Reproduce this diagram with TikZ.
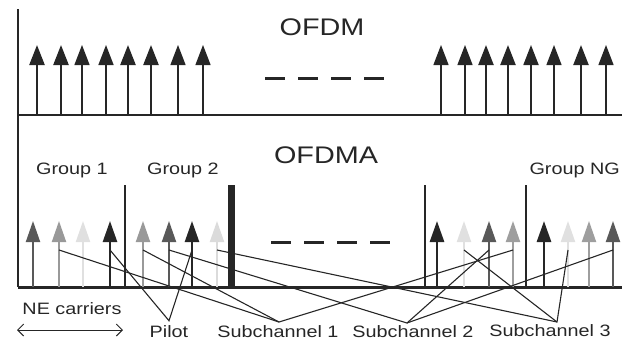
\documentclass[tikz,border=0pt]{standalone}
\usepackage{fontspec}
\setmainfont{Liberation Sans}
\newfontfamily\labelfont[FakeStretch=1.2]{Liberation Sans}
\usetikzlibrary{arrows.meta, positioning}
\definecolor{ink}{RGB}{38,38,38}
\newcommand\ofdmtone[2]{\draw[-{Triangle[width=15pt,length=20pt]}, draw=ink, line width=#2] (#1,115) -- (#1,45);}
\newcommand\subtone[3]{\draw[-{Triangle[width=14pt,length=21pt]}, draw=#2, line width=#3] (#1,287) -- (#1,221);\coordinate (t#1) at (#1,250);}
\newcommand\groupwall[2]{\draw[ink, line width=#2] (#1,185) -- (#1,287);}
\tikzset{
  grouplbl/.style={font=\labelfont\fontsize{16.5}{18}\selectfont, text=ink, inner sep=0pt},
  titlelbl/.style={font=\labelfont\fontsize{24}{26}\selectfont, text=ink, inner sep=0pt},
  mapline/.style={draw=ink, line width=1.1pt},
}

\begin{document}
\begin{tikzpicture}[x=1pt, y=-1pt]
\useasboundingbox (0,0) rectangle (622,341);
\clip (0,0) rectangle (622,341);

\draw[ink, line width=2.5pt] (18,9) -- (18,287);
\draw[ink, line width=2.5pt] (18,115) -- (622,115);
\draw[ink, line width=3pt] (18,287) -- (622,287);

\node[titlelbl] (ofdm) at (322,27) {OFDM};
\node[titlelbl] (ofdma) at (326,155) {OFDMA};

\ofdmtone{37}{2.4pt}
\ofdmtone{61}{2.4pt}
\ofdmtone{82}{1.3pt}
\ofdmtone{106}{1.5pt}
\ofdmtone{128}{2.4pt}
\ofdmtone{151}{2.4pt}
\ofdmtone{178}{1.3pt}
\ofdmtone{203}{1.3pt}
\draw[ink, line width=3pt, dash pattern=on 20pt off 13pt] (265,78) -- (386,78);
\ofdmtone{441}{1.3pt}
\ofdmtone{465}{1.3pt}
\ofdmtone{486}{2.2pt}
\ofdmtone{508}{2.2pt}
\ofdmtone{531}{1.8pt}
\ofdmtone{554}{1.3pt}
\ofdmtone{581}{2.2pt}
\ofdmtone{606}{1.3pt}

\node[grouplbl] (group1) at (72,170) {Group 1};
\node[grouplbl] (group2) at (183,170) {Group 2};
\node[grouplbl, anchor=east] (groupng) at (620,170) {Group NG};

\groupwall{125}{2.5pt}
\groupwall{231}{7pt}
\groupwall{425}{2.5pt}
\groupwall{526}{2.5pt}

\subtone{33}{black!65}{2pt}
\subtone{59}{black!40}{2pt}
\subtone{83}{black!12}{2pt}
\subtone{110}{ink}{2.5pt}
\subtone{143}{black!40}{2pt}
\subtone{169}{black!65}{2pt}
\subtone{192}{ink}{2.5pt}
\subtone{217}{black!14}{2pt}
\draw[ink, line width=3pt, dash pattern=on 20pt off 13pt] (271,242) -- (391,242);
\subtone{437}{ink}{2.8pt}
\subtone{464}{black!12}{2pt}
\subtone{489}{black!65}{2pt}
\subtone{513}{black!38}{2pt}
\subtone{544}{ink}{2.8pt}
\subtone{568}{black!12}{2pt}
\subtone{589}{black!38}{2pt}
\subtone{613}{black!65}{2pt}

\node[grouplbl] (carriers) at (72,309) {NE carriers};
\node[grouplbl] (pilotlbl) at (169,332) {Pilot};
\node[grouplbl] (sub1lbl) at (278,332) {Subchannel 1};
\node[grouplbl] (sub2lbl) at (413,332) {Subchannel 2};
\node[grouplbl] (sub3lbl) at (550,331) {Subchannel 3};

\coordinate[above=5pt of pilotlbl] (pilot);
\coordinate (sub1) at (279,322);
\coordinate (sub2) at (407,323);
\coordinate (sub3) at (557,322);
\coordinate (spanl) at (17,330);
\coordinate (spanr) at (123,330);

\draw[mapline] (t110) -- (pilot) -- (t192);
\draw[mapline] (t59) -- (sub1) -- (t513);
\draw[mapline] (t143) -- (sub1);
\draw[mapline] (t169) -- (sub2) -- (t613);
\draw[mapline] (sub2) -- (t489);
\draw[mapline] (t217) -- (sub3) -- (t568);
\draw[mapline] (t464) -- (sub3);

\draw[{Straight Barb[length=6pt,width=12pt]}-{Straight Barb[length=6pt,width=12pt]}, ink, line width=1pt] (spanl) -- (spanr);
\end{tikzpicture}
\end{document}
